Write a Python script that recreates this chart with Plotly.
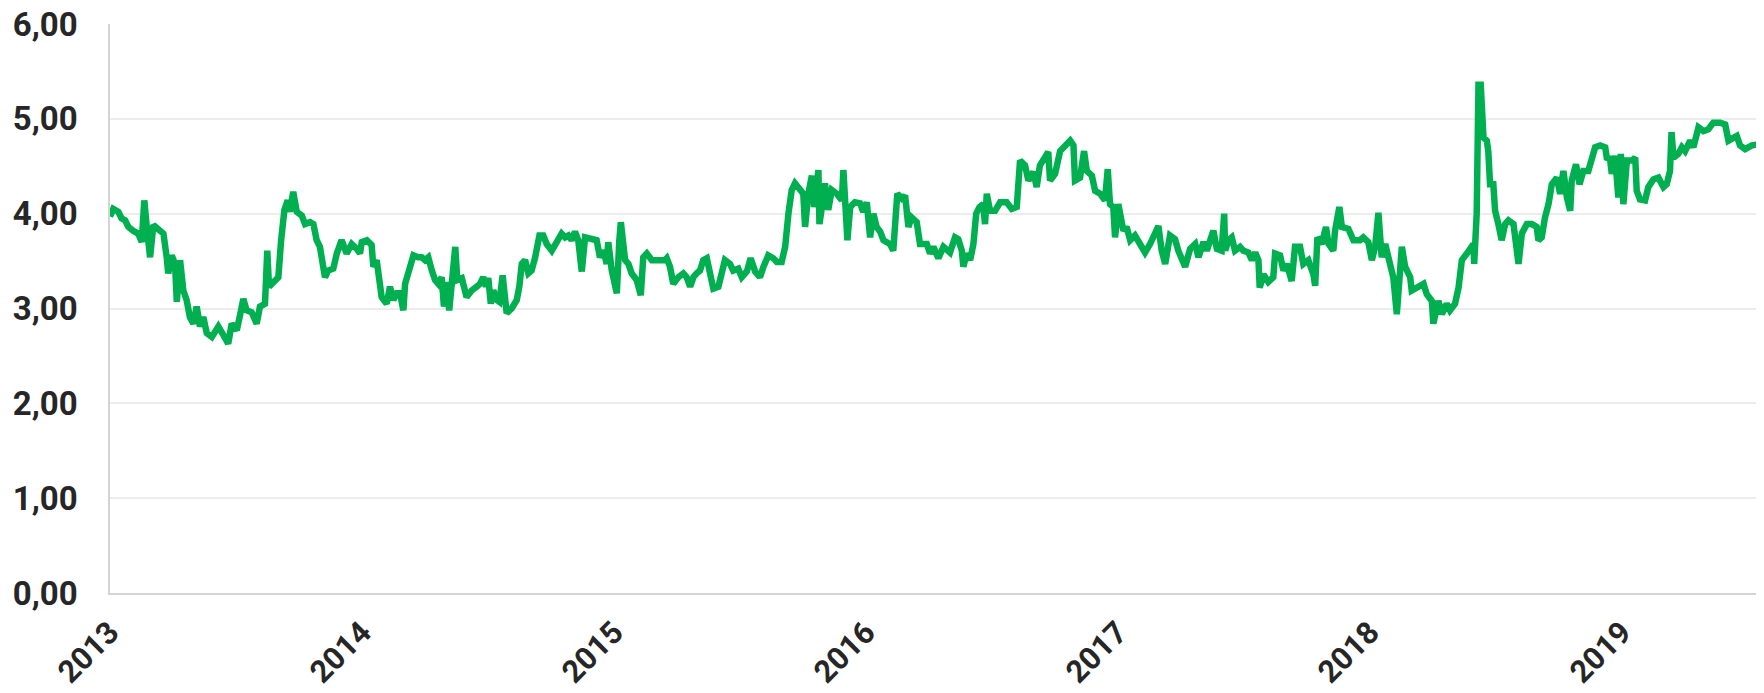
import plotly.graph_objects as go

years = [
    2013.000, 2013.013, 2013.033, 2013.046, 2013.060, 2013.073, 2013.092, 2013.112, 2013.126, 2013.136,
    2013.146, 2013.159, 2013.172, 2013.192, 2013.212, 2013.225, 2013.231, 2013.245, 2013.258, 2013.265,
    2013.278, 2013.291, 2013.304, 2013.317, 2013.331, 2013.344, 2013.357, 2013.370, 2013.384, 2013.404,
    2013.430, 2013.450, 2013.469, 2013.483, 2013.503, 2013.516, 2013.529, 2013.542, 2013.562, 2013.582,
    2013.595, 2013.615, 2013.624, 2013.631, 2013.648, 2013.668, 2013.679, 2013.692, 2013.705, 2013.714,
    2013.727, 2013.741, 2013.761, 2013.774, 2013.794, 2013.807, 2013.820, 2013.833, 2013.846, 2013.853,
    2013.866, 2013.886, 2013.900, 2013.919, 2013.939, 2013.959, 2013.979, 2013.992, 2013.999,
    2014.019, 2014.038, 2014.045, 2014.058, 2014.071, 2014.078, 2014.098, 2014.111,
    2014.124, 2014.138, 2014.151, 2014.164, 2014.171, 2014.190, 2014.204, 2014.223, 2014.237, 2014.250,
    2014.263, 2014.277, 2014.290, 2014.303, 2014.316, 2014.325, 2014.336, 2014.346, 2014.360, 2014.370,
    2014.378, 2014.396, 2014.415, 2014.435, 2014.455, 2014.468, 2014.481, 2014.492, 2014.501, 2014.511,
    2014.521, 2014.535, 2014.545, 2014.558, 2014.574, 2014.594, 2014.614, 2014.624, 2014.634, 2014.647,
    2014.660, 2014.673, 2014.687, 2014.704, 2014.719, 2014.733, 2014.753, 2014.773, 2014.792, 2014.806,
    2014.819, 2014.832, 2014.845, 2014.858, 2014.872, 2014.885, 2014.905, 2014.931, 2014.944, 2014.958,
    2014.971, 2014.977, 2014.991,
    2015.011, 2015.021, 2015.027, 2015.044, 2015.057, 2015.070, 2015.090, 2015.106, 2015.116, 2015.130,
    2015.150, 2015.169, 2015.202, 2015.209, 2015.222, 2015.235, 2015.255, 2015.275, 2015.288, 2015.302,
    2015.315, 2015.328, 2015.341, 2015.354, 2015.368, 2015.381, 2015.394, 2015.414, 2015.427, 2015.440,
    2015.460, 2015.473, 2015.493, 2015.507, 2015.527, 2015.542, 2015.560, 2015.579, 2015.593, 2015.612,
    2015.632, 2015.646, 2015.665, 2015.679, 2015.692, 2015.698, 2015.705, 2015.718, 2015.738, 2015.751,
    2015.758, 2015.771, 2015.785, 2015.794, 2015.811, 2015.815, 2015.831, 2015.837, 2015.850, 2015.864,
    2015.884, 2015.904, 2015.910, 2015.926, 2015.937, 2015.956, 2015.976, 2015.989,
    2016.003, 2016.016, 2016.029, 2016.042, 2016.056, 2016.069, 2016.095, 2016.108, 2016.124, 2016.142,
    2016.155, 2016.168, 2016.181, 2016.201, 2016.214, 2016.241, 2016.254, 2016.267, 2016.287, 2016.307,
    2016.333, 2016.353, 2016.366, 2016.380, 2016.386, 2016.400, 2016.413, 2016.426, 2016.437, 2016.450,
    2016.465, 2016.472, 2016.479, 2016.492, 2016.512, 2016.532, 2016.558, 2016.578, 2016.598, 2016.611,
    2016.631, 2016.644, 2016.664, 2016.677, 2016.690, 2016.710, 2016.723, 2016.730, 2016.750, 2016.770,
    2016.790, 2016.810, 2016.823, 2016.829, 2016.849, 2016.865, 2016.876, 2016.896, 2016.909, 2016.929,
    2016.948, 2016.959, 2016.968, 2016.981, 2016.988,
    2017.001, 2017.021, 2017.034, 2017.048, 2017.067, 2017.087, 2017.107, 2017.127, 2017.147, 2017.160,
    2017.173, 2017.187, 2017.206, 2017.226, 2017.239, 2017.259, 2017.266, 2017.286, 2017.306, 2017.319,
    2017.339, 2017.352, 2017.365, 2017.378, 2017.392, 2017.411, 2017.421, 2017.425, 2017.438, 2017.451,
    2017.464, 2017.484, 2017.497, 2017.517, 2017.531, 2017.544, 2017.557, 2017.562, 2017.577, 2017.596,
    2017.616, 2017.623, 2017.643, 2017.656, 2017.669, 2017.689, 2017.702, 2017.722, 2017.735, 2017.755,
    2017.775, 2017.782, 2017.791, 2017.808, 2017.825, 2017.835, 2017.854, 2017.861, 2017.878, 2017.888,
    2017.914, 2017.934, 2017.960, 2017.973, 2017.993,
    2018.007, 2018.020, 2018.033, 2018.046, 2018.060, 2018.079, 2018.092, 2018.106, 2018.126, 2018.139,
    2018.159, 2018.165, 2018.185, 2018.212, 2018.225, 2018.245, 2018.251, 2018.271, 2018.285, 2018.304,
    2018.317, 2018.337, 2018.351, 2018.364, 2018.384, 2018.410, 2018.413, 2018.423, 2018.430, 2018.439,
    2018.450, 2018.463, 2018.469, 2018.476, 2018.489, 2018.496, 2018.509, 2018.522, 2018.536, 2018.549,
    2018.569, 2018.589, 2018.602, 2018.622, 2018.642, 2018.661, 2018.668, 2018.681, 2018.694, 2018.708,
    2018.721, 2018.741, 2018.754, 2018.767, 2018.781, 2018.794, 2018.800, 2018.817, 2018.831, 2018.846,
    2018.866, 2018.880, 2018.893, 2018.913, 2018.933, 2018.939, 2018.952, 2018.959, 2018.972, 2018.985,
    2018.995,
    2019.005, 2019.019, 2019.038, 2019.052, 2019.058, 2019.071, 2019.091, 2019.104, 2019.124, 2019.144,
    2019.164, 2019.177, 2019.190, 2019.196, 2019.204, 2019.223, 2019.237, 2019.250, 2019.270, 2019.283,
    2019.303, 2019.323, 2019.342, 2019.362, 2019.389, 2019.409, 2019.422, 2019.442, 2019.455, 2019.468,
    2019.488, 2019.515, 2019.541, 2019.563,
]

prices = [
    3.97, 4.05, 4.02, 3.95, 3.93, 3.86, 3.82, 3.79, 3.70, 4.14,
    3.86, 3.54, 3.88, 3.84, 3.79, 3.54, 3.37, 3.56, 3.47, 3.07,
    3.51, 3.19, 3.09, 2.91, 2.84, 3.02, 2.81, 2.91, 2.74, 2.70,
    2.81, 2.72, 2.63, 2.84, 2.77, 2.93, 3.10, 2.98, 2.96, 2.84,
    3.02, 3.05, 3.61, 3.23, 3.28, 3.33, 3.72, 4.04, 4.14, 4.02,
    4.23, 4.02, 3.98, 3.89, 3.91, 3.89, 3.72, 3.65, 3.44, 3.33,
    3.40, 3.42, 3.58, 3.72, 3.58, 3.68, 3.63, 3.58, 3.70,
    3.72, 3.67, 3.44, 3.51, 3.30, 3.12, 3.05, 3.23,
    3.09, 3.16, 3.16, 2.98, 3.26, 3.44, 3.56, 3.54, 3.54, 3.51,
    3.54, 3.40, 3.30, 3.26, 3.33, 3.02, 3.28, 2.98, 3.37, 3.65,
    3.30, 3.32, 3.12, 3.19, 3.23, 3.26, 3.33, 3.23, 3.32, 3.05,
    3.19, 3.09, 3.07, 3.35, 2.95, 3.00, 3.09, 3.23, 3.47, 3.51,
    3.37, 3.40, 3.54, 3.77, 3.77, 3.68, 3.61, 3.72, 3.79, 3.75,
    3.77, 3.72, 3.81, 3.72, 3.39, 3.75, 3.74, 3.72, 3.54, 3.61,
    3.47, 3.70, 3.40,
    3.16, 3.72, 3.91, 3.51, 3.47, 3.37, 3.30, 3.14, 3.54, 3.58,
    3.51, 3.51, 3.51, 3.53, 3.44, 3.26, 3.33, 3.37, 3.33, 3.23,
    3.33, 3.37, 3.40, 3.51, 3.53, 3.37, 3.21, 3.23, 3.40, 3.51,
    3.47, 3.40, 3.42, 3.33, 3.39, 3.53, 3.39, 3.33, 3.44, 3.56,
    3.53, 3.49, 3.49, 3.65, 4.00, 4.11, 4.25, 4.32, 4.26, 4.21,
    3.86, 4.21, 4.40, 4.07, 4.46, 3.89, 4.18, 4.32, 4.04, 4.25,
    4.21, 4.14, 4.46, 3.72, 4.07, 4.12, 4.11, 4.02,
    4.12, 3.75, 4.00, 3.86, 3.81, 3.72, 3.68, 3.61, 4.21, 4.16,
    4.19, 3.86, 3.96, 3.91, 3.68, 3.68, 3.58, 3.65, 3.53, 3.65,
    3.59, 3.75, 3.73, 3.61, 3.44, 3.58, 3.51, 3.68, 4.00, 4.07,
    4.10, 3.89, 4.21, 4.03, 4.03, 4.12, 4.12, 4.05, 4.07, 4.56,
    4.51, 4.35, 4.44, 4.28, 4.51, 4.58, 4.65, 4.35, 4.42, 4.66,
    4.72, 4.77, 4.72, 4.35, 4.38, 4.66, 4.45, 4.40, 4.24, 4.21,
    4.14, 4.47, 4.10, 4.07, 3.75,
    4.10, 3.82, 3.86, 3.72, 3.77, 3.68, 3.59, 3.68, 3.79, 3.87,
    3.61, 3.47, 3.77, 3.73, 3.61, 3.51, 3.44, 3.63, 3.68, 3.54,
    3.70, 3.61, 3.72, 3.82, 3.63, 3.61, 4.00, 3.61, 3.72, 3.75,
    3.61, 3.65, 3.61, 3.59, 3.51, 3.59, 3.51, 3.22, 3.36, 3.28,
    3.33, 3.58, 3.56, 3.40, 3.47, 3.29, 3.65, 3.65, 3.47, 3.51,
    3.36, 3.24, 3.75, 3.68, 3.86, 3.68, 3.61, 3.82, 4.07, 3.86,
    3.84, 3.72, 3.72, 3.75, 3.70,
    3.51, 3.65, 4.01, 3.54, 3.68, 3.47, 3.33, 2.94, 3.65, 3.44,
    3.33, 3.19, 3.22, 3.26, 3.15, 3.08, 2.84, 3.08, 2.94, 3.05,
    2.98, 3.05, 3.22, 3.51, 3.58, 3.68, 3.47, 4.00, 5.36, 5.36,
    4.80, 4.77, 4.66, 4.31, 4.31, 4.03, 3.89, 3.72, 3.89, 3.93,
    3.89, 3.47, 3.79, 3.89, 3.89, 3.86, 3.72, 3.75, 3.96, 4.10,
    4.31, 4.38, 4.21, 4.45, 4.17, 4.03, 4.35, 4.52, 4.31, 4.45,
    4.45, 4.56, 4.70, 4.72, 4.70, 4.59, 4.58, 4.42, 4.61, 4.17,
    4.63,
    4.10, 4.56, 4.56, 4.59, 4.24, 4.15, 4.14, 4.28, 4.36, 4.38,
    4.28, 4.31, 4.45, 4.86, 4.59, 4.63, 4.70, 4.66, 4.77, 4.70,
    4.91, 4.87, 4.89, 4.96, 4.96, 4.94, 4.77, 4.79, 4.82, 4.72,
    4.68, 4.72, 4.73, 4.63,
]

x_ticks = [2013, 2014, 2015, 2016, 2017, 2018, 2019]
x_labels = ["2013", "2014", "2015", "2016", "2017", "2018", "2019"]
y_ticks = [0, 1, 2, 3, 4, 5, 6]
y_labels = ["0,00", "1,00", "2,00", "3,00", "4,00", "5,00", "6,00"]

fig = go.Figure()
fig.add_trace(go.Scatter(
    x=years, y=prices, mode="lines",
    line=dict(color="#00B050", width=6.5),
    hoverinfo="skip", showlegend=False,
))

y_font = dict(family="Roboto", size=33, color="#262626", weight="bold")
x_font = dict(family="Roboto", size=31, color="#262626", weight="bold")

# the page body adds an 8px offset, so the figure is sized to fill the rest
fig.update_layout(
    width=1756, height=685,
    margin=dict(l=102, r=0, t=16, b=100),
    paper_bgcolor="white", plot_bgcolor="white",
    xaxis=dict(
        range=[2013, 2019.563], tickvals=x_ticks, ticktext=x_labels,
        tickangle=-45, tickfont=x_font, showgrid=False, zeroline=False,
        showline=True, linecolor="#d4d4d4", linewidth=1.5,
        ticks="", ticklabelstandoff=7, automargin=False,
        ticklabeloverflow="allow",
    ),
    yaxis=dict(
        range=[0, 6], tickvals=y_ticks, ticktext=y_labels,
        tickfont=y_font, showgrid=True, gridcolor="#ececec", gridwidth=1.5,
        zeroline=False, showline=True, linecolor="#d4d4d4", linewidth=1.5,
        ticks="", ticklabelstandoff=24, automargin=False,
        ticklabeloverflow="allow",
    ),
)

fig.write_html("out.html")
